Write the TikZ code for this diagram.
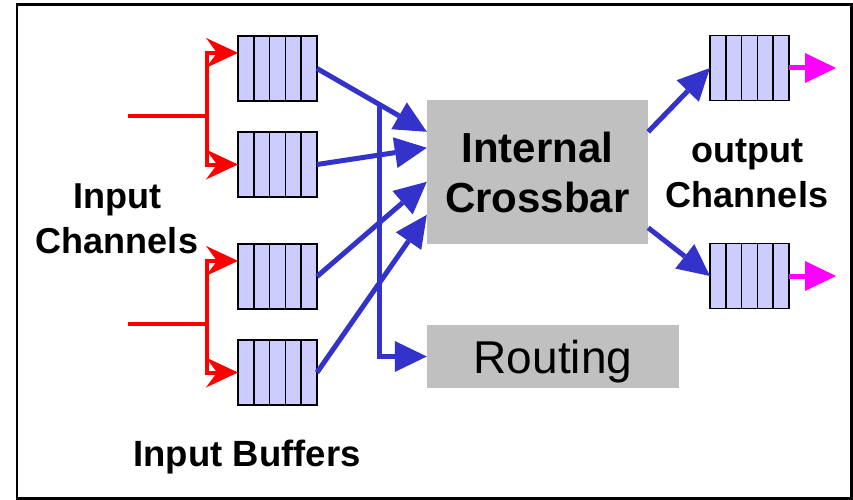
\documentclass[tikz,border=0pt]{standalone}
\usepackage{fontspec}
\setmainfont{Liberation Sans}
\usetikzlibrary{arrows.meta,calc}
\definecolor{qfill}{HTML}{CCCCFF}
\definecolor{linkblue}{HTML}{3333CC}
\definecolor{boxgray}{HTML}{C0C0C0}
\definecolor{feedred}{HTML}{FF0000}
\definecolor{exitmag}{HTML}{FF00FF}
\tikzset{
  queue/.style={rectangle, draw=black, line width=1.5pt, fill=qfill,
    minimum width=79pt, minimum height=65pt, inner sep=0pt, outer sep=0pt},
  cell/.style={draw=black, line width=1.5pt},
  graybox/.style={rectangle, fill=boxgray, inner sep=0pt},
  lbl/.style={font=\fontsize{36}{45}\selectfont\bfseries, align=center, inner sep=0pt},
  feed/.style={draw=feedred, line width=4pt},
  feedarrow/.style={feed, -{Stealth[length=32pt, width=30pt, inset=11pt, line width=0pt]}},
  link/.style={draw=linkblue, line width=5pt, -{Triangle[length=32pt, width=31pt, line width=0pt]}},
  exit/.style={draw=exitmag, line width=5pt, -{Triangle[length=31pt, width=30pt, line width=0pt]}}
}
\begin{document}
\begin{tikzpicture}[x=1pt, y=-1pt]
\useasboundingbox (0,0) rectangle (853,500);
\draw[line width=2.5pt] (17,4.5) rectangle (851.5,498.5);

% input and output queues, five slots each
\node[queue] (b1) at (277.5,68.5) {};
\node[queue] (b2) at (277.5,164.5) {};
\node[queue] (b3) at (277.5,276.5) {};
\node[queue] (b4) at (277.5,372.5) {};
\node[queue] (o1) at (749.5,68) {};
\node[queue] (o2) at (749.5,276) {};
\foreach \q in {b1,b2,b3,b4,o1,o2}
  \foreach \k in {1,2,3,4}
    \draw[cell] ([xshift=\k*15.8pt]\q.north west) -- ([xshift=\k*15.8pt]\q.south west);

% switch blocks
\node[graybox, minimum width=221pt, minimum height=144pt,
  font=\fontsize{42}{50}\selectfont\bfseries, align=center] (cb) at (537.5,172) {Internal\\Crossbar};
\node[graybox, minimum width=252pt, minimum height=63pt,
  font=\fontsize{46}{50}\selectfont, text depth=0pt] (rt) at (553,356.5) {Routing};

% labels
\node[lbl] (inlbl) at (117,218.5) {Input\\Channels};
\node[lbl] (outlbl) at (747,173.5) {output\\Channels};
\node[lbl, font=\fontsize{36.5}{40}\selectfont\bfseries, anchor=base] (buflbl) at (247,466) {Input Buffers};

% incoming channels, each split over two queues
\coordinate (inA) at (128,116);
\coordinate (jA) at (207,116);
\coordinate (inB) at (128,324);
\coordinate (jB) at (207,324);
\draw[feed] (inA) -- (jA);
\draw[feed] (inB) -- (jB);
\draw[feedarrow] (jA) |- ($(b1.north west)!0.26!(b1.south west)$);
\draw[feedarrow] (jA) |- (b2.west);
\draw[feedarrow] (jB) |- ($(b3.north west)!0.26!(b3.south west)$);
\draw[feedarrow] (jB) |- (b4.west);

% queues into the crossbar
\coordinate (t1) at ($(cb.north west)+(0,32)$);
\coordinate (t2) at ($(cb.north west)+(0,48)$);
\coordinate (t3) at ($(cb.north west)+(0,82)$);
\coordinate (t4) at ($(cb.north west)+(0,115)$);
\draw[link] (b1.east) -- (t1);
\draw[link] (b2.east) -- (t2);
\draw[link] (b3.east) -- (t3);
\draw[link] (b4.east) -- (t4);

% header tap to the routing unit
\coordinate (tap) at ($(b1.east)!0.573!(t1)$);
\draw[link] (tap) |- (rt.west);

% crossbar out to the output queues
\draw[link] ($(cb.north east)+(0,32)$) -- (o1.west);
\draw[link] ($(cb.north east)+(0,128)$) -- (o2.west);

% outgoing channels
\coordinate (e1) at ($(o1.east)+(47,0)$);
\coordinate (e2) at ($(o2.east)+(47,0)$);
\draw[exit] (o1.east) -- (e1);
\draw[exit] (o2.east) -- (e2);
\end{tikzpicture}
\end{document}
